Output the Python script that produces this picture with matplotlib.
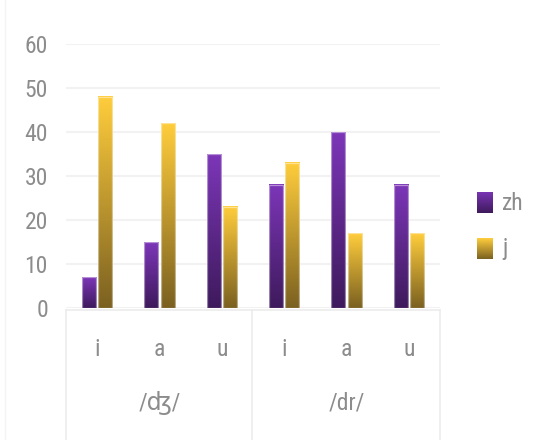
import numpy as np
import matplotlib.pyplot as plt
from matplotlib.colors import to_rgb
from matplotlib.lines import Line2D

vowels = ['i', 'a', 'u', 'i', 'a', 'u']
groups = ['/ʤ/', '/dr/']
zh = [7, 15, 35, 28, 40, 28]
j = [48, 42, 23, 33, 17, 17]

fonts = ['Roboto Condensed', 'DejaVu Sans']
txt = '#8c8c8c'
purple = ('#7c36b8', '#3e1a5c')
yellow = ('#ffcd3c', '#7b6121')


def grad(top, bottom, n=128):
    t = np.linspace(0, 1, n)[:, None]
    a = np.array(to_rgb(top))
    b = np.array(to_rgb(bottom))
    return (a * (1 - t) + b * t)[:, None, :]


W, H = 541, 440
fig = plt.figure(figsize=(W / 100, H / 100), dpi=100)
ax = fig.add_axes([66 / W, 1 - 308 / H, (440 - 66) / W, (308 - 44) / H])

x = np.arange(len(vowels))
w = 0.225
for vals, off, cols in [(zh, -0.13, purple), (j, 0.13, yellow)]:
    bars = ax.bar(x + off, vals, w, color='none', edgecolor='none')
    for b in bars:
        x0 = b.get_x()
        h = b.get_height()
        ax.imshow(grad(*cols), extent=[x0, x0 + w, 0, h], aspect='auto',
                  origin='upper', zorder=2)
        ax.add_patch(plt.Rectangle((x0, 0), w, h, fill=False,
                                   edgecolor='white', alpha=0.45, lw=0.9, zorder=3))

ax.set_xlim(-0.5, 5.5)
ax.set_ylim(0, 60)
ax.set_yticks(range(0, 61, 10))
ax.set_yticklabels([str(v) for v in range(0, 61, 10)], family=fonts,
                   fontsize=17, color=txt)
ax.tick_params(axis='y', length=0, pad=13)
ax.set_xticks([])
ax.grid(axis='y', color='#f2f2f2', lw=1.5, zorder=0)
ax.set_axisbelow(True)
for s in ax.spines.values():
    s.set_visible(False)

# category boxes
lc = '#ececec'
fig.add_artist(Line2D([66 / W, 440 / W], [1 - 310 / H] * 2, color=lc, lw=1.2))
for px in [66, 252, 440]:
    fig.add_artist(Line2D([px / W] * 2, [0, 1 - 310 / H], color=lc, lw=1.2))
fig.add_artist(Line2D([5 / W] * 2, [0, 1], color='#f4f4f4', lw=1))

for i, v in enumerate(vowels):
    ax.text(i, -9.5, v, ha='center', va='center', family=fonts,
            fontsize=17, color=txt)
for g, cx in zip(groups, [1, 4]):
    ax.text(cx, -21.5, g, ha='center', va='center', family=fonts,
            fontsize=17, color=txt)

# legend
for lab, cols, py in [('zh', purple, 192), ('j', yellow, 238)]:
    la = fig.add_axes([477 / W, 1 - (py + 21) / H, 16 / W, 21 / H])
    la.imshow(grad(*cols), aspect='auto')
    la.axis('off')
    fig.text(502 / W, 1 - (py + 11) / H, lab, ha='left', va='center',
             family=fonts, fontsize=17, color=txt)

plt.savefig('out.png', dpi=100)
